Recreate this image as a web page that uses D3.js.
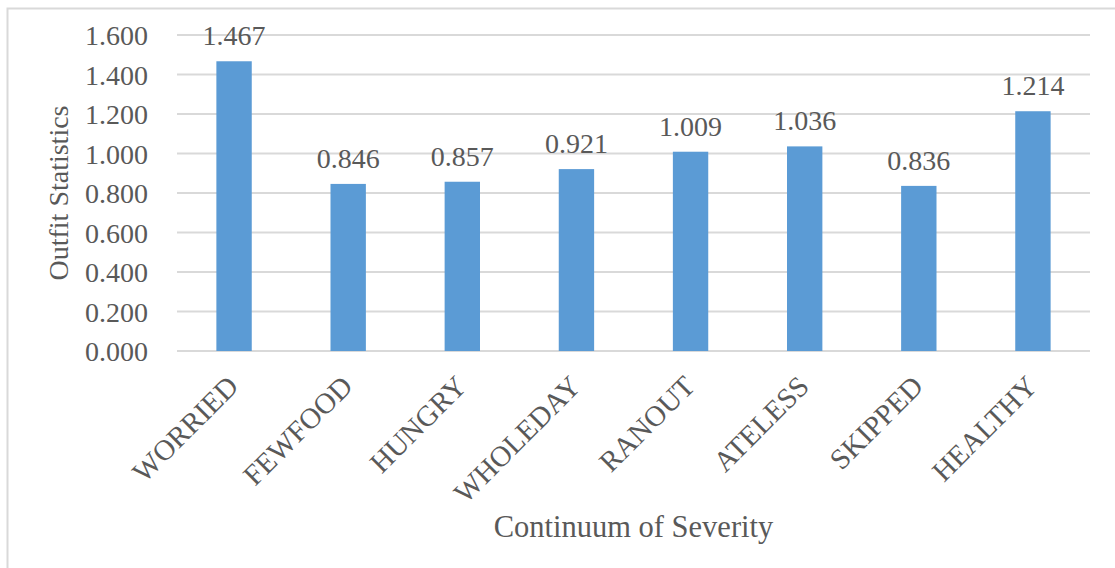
<!DOCTYPE html>
<html>
<head>
<meta charset="utf-8">
<script src="https://cdn.jsdelivr.net/npm/d3@7"></script>
<style>
  body { margin: 0; background: #fff; }
</style>
</head>
<body>
<div id="chart"></div>
<script>
"use strict"

// data
const categories = ["WORRIED", "FEWFOOD", "HUNGRY", "WHOLEDAY", "RANOUT", "ATELESS", "SKIPPED", "HEALTHY"];
const values = [1.467, 0.846, 0.857, 0.921, 1.009, 1.036, 0.836, 1.214];
const yTicks = [0, 0.2, 0.4, 0.6, 0.8, 1.0, 1.2, 1.4, 1.6];

const FONT = "'Liberation Serif', 'Times New Roman', serif";
const TXT = "#595959";

const W = 1115, H = 568;
const margin = {top: 35, right: 25, bottom: 217, left: 177},
  width = W - margin.left - margin.right,
  height = H - margin.top - margin.bottom;

const root = d3.select("#chart").append("svg")
  .attr("width", W)
  .attr("height", H);

// outer frame (cut off at right and bottom)
root.append("rect")
  .attr("x", 7.5).attr("y", 8.5)
  .attr("width", W + 10).attr("height", H + 10)
  .attr("fill", "none")
  .attr("stroke", "#d9d9d9")
  .attr("stroke-width", 2);

const svg = root.append("g")
  .attr("transform", "translate(" + margin.left + "," + margin.top + ")");

const x = d3.scaleBand()
  .domain(categories)
  .range([0, width]);

const y = d3.scaleLinear()
  .domain([0, 1.6])
  .range([height, 0]);

// gridlines
svg.selectAll(".grid")
  .data(yTicks)
  .enter().append("line")
    .attr("x1", 0).attr("x2", width)
    .attr("y1", d => y(d)).attr("y2", d => y(d))
    .attr("stroke", "#d9d9d9")
    .attr("stroke-width", 2);

// y axis labels
const yAxis = svg.append("g")
  .call(d3.axisLeft(y).tickValues(yTicks).tickSize(0).tickPadding(29).tickFormat(d3.format(".3f")));
yAxis.select(".domain").remove();
yAxis.selectAll("text")
  .style("font-family", FONT)
  .style("font-size", "28px")
  .style("fill", TXT)
  .attr("dy", "0.34em");

// bars
const barW = x.bandwidth() * 0.31;
svg.selectAll(".bar")
  .data(values)
  .enter().append("rect")
    .attr("x", (d, i) => x(categories[i]) + (x.bandwidth() - barW) / 2)
    .attr("y", d => y(d))
    .attr("width", barW)
    .attr("height", d => height - y(d))
    .attr("fill", "#5b9bd5");

// value labels
svg.selectAll(".lbl")
  .data(values)
  .enter().append("text")
    .attr("x", (d, i) => x(categories[i]) + x.bandwidth() / 2)
    .attr("y", d => y(d) - 16)
    .attr("text-anchor", "middle")
    .style("font-family", FONT)
    .style("font-size", "28px")
    .style("fill", TXT)
    .text(d => d3.format(".3f")(d));

// x labels, rotated
svg.selectAll(".xl")
  .data(categories)
  .enter().append("text")
    .attr("transform", d => "translate(" + (x(d) + x.bandwidth() / 2 + 6) + "," + (height + 37) + ") rotate(-45)")
    .attr("text-anchor", "end")
    .style("font-family", FONT)
    .style("font-size", "29px")
    .style("fill", TXT)
    .text(d => d);

// axis titles
svg.append("text")
  .attr("transform", "translate(-109," + height / 2 + ") rotate(-90)")
  .attr("text-anchor", "middle")
  .style("font-family", FONT)
  .style("font-size", "28px")
  .style("fill", TXT)
  .text("Outfit Statistics");

svg.append("text")
  .attr("x", width / 2)
  .attr("y", height + 186)
  .attr("text-anchor", "middle")
  .style("font-family", FONT)
  .style("font-size", "30.5px")
  .style("fill", TXT)
  .text("Continuum of Severity");
</script>
</body>
</html>
